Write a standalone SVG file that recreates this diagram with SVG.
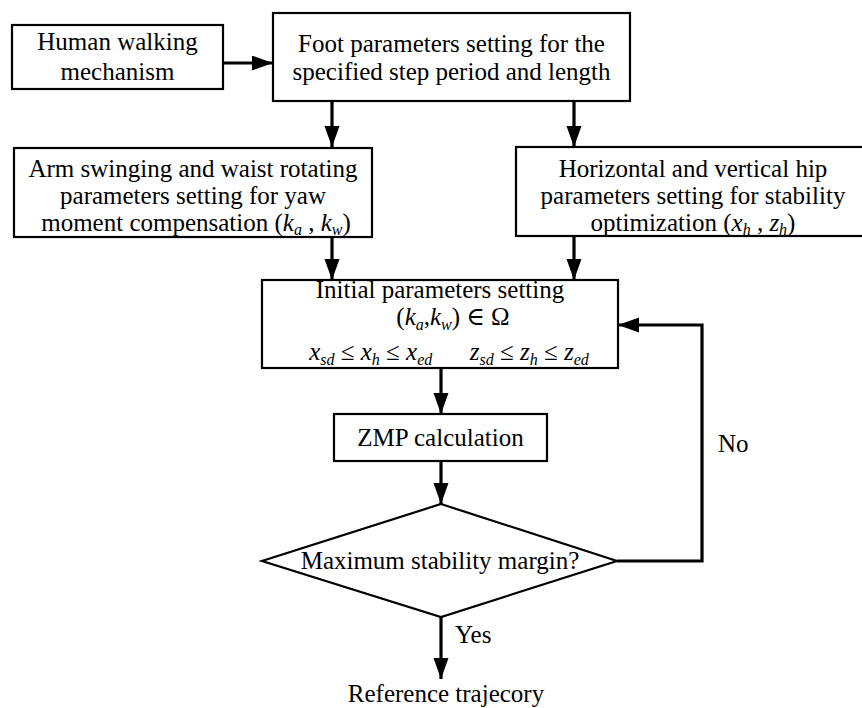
<svg xmlns="http://www.w3.org/2000/svg" width="862" height="708" viewBox="0 0 862 708" font-family="Liberation Serif, Times New Roman, Tinos, DejaVu Serif, serif">
<style>
.box{fill:#fff;stroke:#000;stroke-width:2.2}
.t{font-size:25px;fill:#000;text-anchor:middle}
.l{font-size:25px;fill:#000}
.i{font-style:italic}
.s{font-size:16px;font-style:italic}
.c{fill:none;stroke:#000;stroke-width:3.2}
</style>
<defs>
<marker id="ah" markerUnits="userSpaceOnUse" markerWidth="22" markerHeight="16" refX="21" refY="7.5" orient="auto">
<path d="M0,0 L21,7.5 L0,15 z" fill="#000"/>
</marker>
</defs>
<g id="connectors">
<line class="c" x1="223" y1="63" x2="273" y2="63" marker-end="url(#ah)"/>
<line class="c" x1="332" y1="101" x2="332" y2="147" marker-end="url(#ah)"/>
<line class="c" x1="574" y1="101" x2="574" y2="147" marker-end="url(#ah)"/>
<line class="c" x1="332" y1="237" x2="332" y2="280" marker-end="url(#ah)"/>
<line class="c" x1="574" y1="237" x2="574" y2="280" marker-end="url(#ah)"/>
<line class="c" x1="441" y1="368" x2="441" y2="414" marker-end="url(#ah)"/>
<line class="c" x1="441" y1="461" x2="441" y2="504" marker-end="url(#ah)"/>
<line class="c" x1="441" y1="617" x2="441" y2="679" marker-end="url(#ah)"/>
<polyline class="c" points="617,561 702,561 702,325 618,325" marker-end="url(#ah)"/>
<text class="l" x="718" y="452">No</text>
<text class="l" x="455" y="643">Yes</text>
</g>
<g id="human">
<rect class="box" x="12" y="25" width="211" height="64"/>
<text class="t" x="117.5" y="50">Human walking</text>
<text class="t" x="117.5" y="80">mechanism</text>
</g>
<g id="foot">
<rect class="box" x="273" y="13" width="357" height="88"/>
<text class="t" x="451.5" y="52">Foot parameters setting for the</text>
<text class="t" x="451.5" y="80">specified step period and length</text>
</g>
<g id="arm">
<rect class="box" x="14" y="148" width="358" height="89"/>
<text class="t" x="193" y="177">Arm swinging and waist rotating</text>
<text class="t" x="193" y="204">parameters setting for yaw</text>
<text class="t" x="196" y="231">moment compensation (<tspan class="i">k</tspan><tspan class="s" dy="4">a</tspan><tspan dy="-4"> , </tspan><tspan class="i">k</tspan><tspan class="s" dy="4">w</tspan><tspan dy="-4">)</tspan></text>
</g>
<g id="hip">
<rect class="box" x="516" y="147" width="352" height="89"/>
<text class="t" x="693" y="177">Horizontal and vertical hip</text>
<text class="t" x="693" y="204">parameters setting for stability</text>
<text class="t" x="693" y="231">optimization (<tspan class="i">x</tspan><tspan class="s" dy="4">h</tspan><tspan dy="-4"> , </tspan><tspan class="i">z</tspan><tspan class="s" dy="4">h</tspan><tspan dy="-4">)</tspan></text>
</g>
<g id="initial">
<rect class="box" x="262" y="280" width="356" height="88"/>
<text class="t" x="440" y="298">Initial parameters setting</text>
<text class="t" x="453" y="325">(<tspan class="i">k</tspan><tspan class="s" dy="5">a</tspan><tspan dy="-5">,</tspan><tspan class="i">k</tspan><tspan class="s" dy="5">w</tspan><tspan dy="-5">) ∈ Ω</tspan></text>
<text class="t" x="449" y="360"><tspan class="i">x</tspan><tspan class="s" dy="5">sd</tspan><tspan dy="-5"> ≤ </tspan><tspan class="i">x</tspan><tspan class="s" dy="5">h</tspan><tspan dy="-5"> ≤ </tspan><tspan class="i">x</tspan><tspan class="s" dy="5">ed</tspan><tspan dy="-5" xml:space="preserve">      </tspan><tspan class="i">z</tspan><tspan class="s" dy="5">sd</tspan><tspan dy="-5"> ≤ </tspan><tspan class="i">z</tspan><tspan class="s" dy="5">h</tspan><tspan dy="-5"> ≤ </tspan><tspan class="i">z</tspan><tspan class="s" dy="5">ed</tspan></text>
</g>
<g id="zmp">
<rect class="box" x="334" y="414" width="213" height="47"/>
<text class="t" x="440.5" y="446">ZMP calculation</text>
</g>
<g id="decision">
<polygon class="box" points="441,504 617,561 441,617 262,561"/>
<text class="t" x="440" y="569">Maximum stability margin?</text>
</g>
<g id="reference">
<text class="t" x="446" y="702">Reference trajecory</text>
</g>
</svg>
